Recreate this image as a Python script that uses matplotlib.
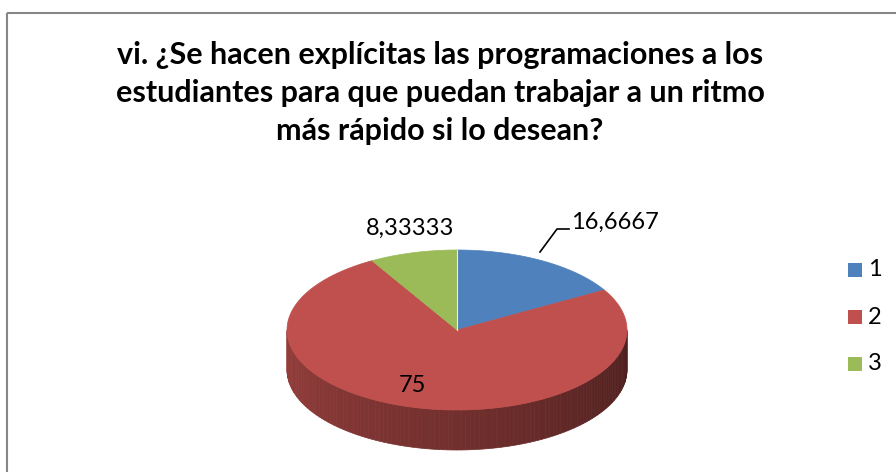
import numpy as np
import matplotlib
matplotlib.use("Agg")
import matplotlib.pyplot as plt
from matplotlib.patches import Polygon, Rectangle

categories = ["1", "2", "3"]
values = [16.6667, 75, 8.33333]
value_labels = ["16,6667", "75", "8,33333"]
colors = ["#4F81BD", "#C0504D", "#9BBB59"]
title = "vi. ¿Se hacen explícitas las programaciones a los\nestudiantes para que puedan trabajar a un ritmo\nmás rápido si lo desean?"

W, H = 896, 472
fig = plt.figure(figsize=(W / 100, H / 100), dpi=100)
ax = fig.add_axes([0, 0, 1, 1])
ax.set_xlim(0, W)
ax.set_ylim(H, 0)
ax.axis("off")

# chart border
ax.add_patch(Rectangle((7, 13), 900, 470, fill=False, ec="#868686", lw=1.5))

cx, cy, a, b, depth = 457, 330, 170, 80, 40


def pt(t, dy=0.0):
    return cx + a * np.cos(t), cy - b * np.sin(t) + dy


# side wall (front half) with shading strips
n = 120
ts = np.linspace(np.pi, 2 * np.pi, n + 1)
base = np.array([0xC0, 0x50, 0x4D]) / 255.0
for i in range(n):
    t0, t1 = ts[i], ts[i + 1]
    tm = 0.5 * (t0 + t1)
    f = (tm - np.pi) / np.pi
    shade = 0.78 - 0.38 * f
    col = np.clip(base * shade, 0, 1)
    x0, y0 = pt(t0)
    x1, y1 = pt(t1)
    ax.add_patch(Polygon([(x0, y0), (x1, y1), (x1, y1 + depth), (x0, y0 + depth)],
                         closed=True, fc=col, ec=col, lw=0.5))

# top face slices, clockwise from 90 deg
start = np.pi / 2
total = sum(values)
for v, c in zip(values, colors):
    sweep = 2 * np.pi * v / total
    tt = np.linspace(start, start - sweep, 200)
    xs, ys = pt(tt)
    poly = [(cx, cy)] + list(zip(xs, ys))
    ax.add_patch(Polygon(poly, closed=True, fc=c, ec=c, lw=0.5))
    start -= sweep
# light separator between slices 3 and 1
ax.plot([cx, cx], [cy, cy - b], color="#E8EEF6", lw=0.8)

ax.text(440, 93, title, ha="center", va="center", fontsize=22,
        fontweight="bold", family="Lato", linespacing=1.45, color="#000000")

lab_font = dict(fontsize=17, family="Lato", color="#000000")
ax.text(615, 222, value_labels[0], ha="center", va="center", **lab_font)
ax.plot([540, 557, 569], [252, 229, 229], color="black", lw=1.2)
ax.text(410, 228, value_labels[2], ha="center", va="center", **lab_font)
ax.text(412, 385, value_labels[1], ha="center", va="center", **lab_font)

# legend
for i, (cat, c) in enumerate(zip(categories, colors)):
    y = 270 + 47 * i
    ax.add_patch(Rectangle((848, y - 7), 14, 14, fc=c, ec="none"))
    ax.text(868, y, cat, ha="left", va="center", **lab_font)

fig.savefig("out.png", dpi=100)
